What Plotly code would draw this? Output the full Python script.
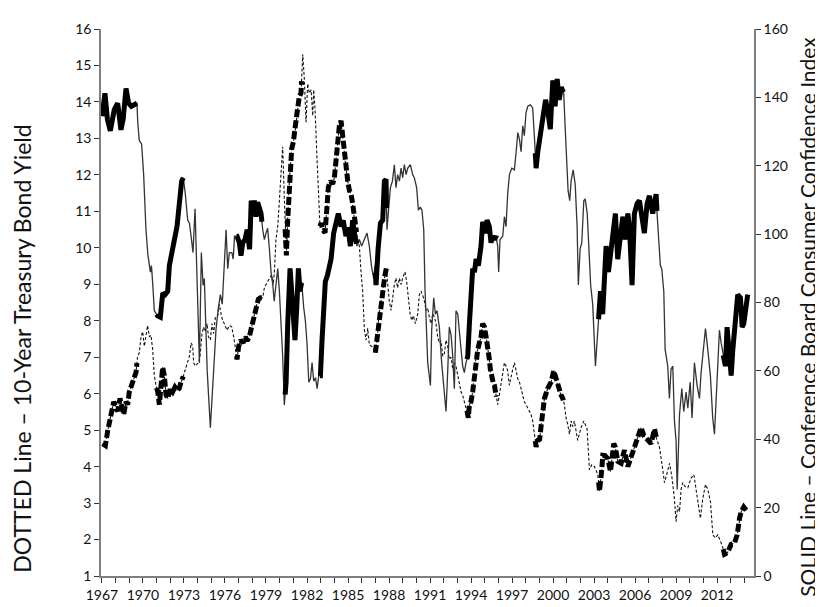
import numpy as np
import plotly.graph_objects as go

# ---- Conference Board Consumer Confidence Index (solid line, right axis)
conf_years = [1967.0, 1967.22, 1967.4, 1967.61, 1967.9, 1968.15, 1968.39, 1968.55, 1968.76, 1968.95,
    1969.15, 1969.35, 1969.56, 1969.62, 1969.73, 1969.9, 1970.05, 1970.22, 1970.36, 1970.54,
    1970.62, 1970.72, 1970.83, 1971.07, 1971.27, 1971.45, 1971.62, 1971.81, 1971.93, 1972.17,
    1972.49, 1972.66, 1972.83, 1972.95, 1973.1, 1973.27, 1973.4, 1973.52, 1973.66, 1973.81,
    1973.9, 1973.98, 1974.05, 1974.13, 1974.27, 1974.4, 1974.49, 1974.7, 1974.93, 1975.1,
    1975.34, 1975.5, 1975.66, 1975.8, 1976.08, 1976.2, 1976.32, 1976.5, 1976.6, 1976.7,
    1976.88, 1977.05, 1977.17, 1977.3, 1977.47, 1977.62, 1977.8, 1977.92, 1978.04, 1978.15,
    1978.27, 1978.39, 1978.52, 1978.64, 1978.76, 1978.88, 1979.0, 1979.12, 1979.25, 1979.37,
    1979.5, 1979.6, 1979.73, 1979.86, 1979.98, 1980.1, 1980.22, 1980.34, 1980.47, 1980.59,
    1980.76, 1980.88, 1981.0, 1981.12, 1981.25, 1981.37, 1981.49, 1981.61, 1981.76, 1981.88,
    1982.0, 1982.13, 1982.25, 1982.37, 1982.49, 1982.62, 1982.74, 1982.86, 1982.98, 1983.1,
    1983.22, 1983.34, 1983.5, 1983.64, 1983.76, 1983.95, 1984.12, 1984.29, 1984.49, 1984.65,
    1984.85, 1985.0, 1985.17, 1985.34, 1985.5, 1985.66, 1985.83, 1986.0, 1986.2, 1986.39,
    1986.56, 1986.71, 1986.88, 1986.97, 1987.05, 1987.2, 1987.37, 1987.54, 1987.66, 1987.78,
    1987.85, 1987.95, 1988.1, 1988.25, 1988.39, 1988.51, 1988.63, 1988.76, 1988.88, 1989.0,
    1989.12, 1989.25, 1989.37, 1989.56, 1989.73, 1989.85, 1990.02, 1990.15, 1990.29, 1990.41,
    1990.54, 1990.63, 1990.72, 1990.83, 1991.03, 1991.12, 1991.27, 1991.39, 1991.51, 1991.68,
    1991.85, 1992.05, 1992.17, 1992.29, 1992.41, 1992.54, 1992.66, 1992.78, 1992.9, 1993.03,
    1993.15, 1993.27, 1993.39, 1993.51, 1993.63, 1993.76, 1993.88, 1994.0, 1994.12, 1994.25,
    1994.37, 1994.54, 1994.73, 1994.85, 1995.03, 1995.17, 1995.34, 1995.46, 1995.59, 1995.71,
    1995.83, 1995.95, 1996.02, 1996.12, 1996.32, 1996.44, 1996.56, 1996.68, 1996.81, 1996.98,
    1997.17, 1997.3, 1997.42, 1997.54, 1997.66, 1997.78, 1997.9, 1998.02, 1998.15, 1998.34,
    1998.51, 1998.63, 1998.76, 1998.88, 1999.0, 1999.12, 1999.3, 1999.45, 1999.6, 1999.8,
    1999.98, 2000.15, 2000.3, 2000.45, 2000.6, 2000.78, 2000.88, 2001.0, 2001.1, 2001.22,
    2001.32, 2001.47, 2001.62, 2001.76, 2001.85, 2001.98, 2002.1, 2002.25, 2002.35, 2002.5,
    2002.62, 2002.75, 2002.9, 2003.1, 2003.34, 2003.47, 2003.63, 2003.76, 2003.88, 2004.05,
    2004.25, 2004.56, 2004.73, 2004.93, 2005.1, 2005.27, 2005.47, 2005.59, 2005.78, 2005.95,
    2006.15, 2006.32, 2006.49, 2006.68, 2006.88, 2007.05, 2007.29, 2007.54, 2007.61, 2007.71,
    2007.85, 2007.95, 2008.1, 2008.2, 2008.39, 2008.51, 2008.63, 2008.76, 2008.88, 2009.0,
    2009.08, 2009.25, 2009.42, 2009.56, 2009.73, 2009.86, 2010.03, 2010.17, 2010.34, 2010.54,
    2010.71, 2010.83, 2010.95, 2011.15, 2011.32, 2011.51, 2011.68, 2011.81, 2011.98, 2012.17,
    2012.3, 2012.42, 2012.61, 2012.73, 2012.9, 2013.03, 2013.15, 2013.34, 2013.51, 2013.71,
    2013.83, 2013.95, 2014.12, 2014.24]
conf_values = [134.5, 141.2, 133.6, 130.2, 136.4, 138.3, 130.5, 133.6, 142.6, 138.3,
    137.4, 137.8, 138.3, 132.6, 127.4, 126.4, 117.4, 101.3, 94.0, 88.9,
    90.8, 85.1, 77.6, 76.1, 75.7, 82.8, 82.3, 83.3, 90.8, 96.5,
    102.2, 108.9, 115.5, 116.5, 111.7, 104.1, 103.2, 99.4, 94.6, 107.4,
    96.5, 84.2, 73.8, 62.4, 94.6, 85.0, 87.0, 60.0, 43.4, 55.0,
    71.9, 78.0, 82.3, 79.5, 101.3, 89.9, 94.6, 94.6, 92.7, 99.4,
    99.4, 97.5, 93.7, 97.5, 98.4, 101.3, 95.6, 109.8, 106.0, 109.8,
    105.1, 109.3, 107.9, 106.0, 101.3, 98.4, 100.3, 101.7, 95.6, 88.9,
    85.1, 80.4, 85.2, 89.9, 83.3, 73.8, 64.3, 50.0, 56.7, 73.8,
    90.0, 83.3, 73.8, 69.0, 78.5, 90.0, 83.3, 86.0, 78.5, 74.7,
    68.1, 56.7, 57.6, 62.4, 57.0, 58.0, 54.8, 58.6, 58.6, 69.0,
    78.5, 86.1, 88.0, 90.9, 92.7, 100.3, 104.1, 106.0, 102.2, 104.0,
    99.4, 102.0, 96.5, 104.1, 99.4, 96.5, 98.4, 96.5, 98.4, 100.3,
    96.5, 90.8, 87.0, 90.8, 85.1, 95.6, 103.2, 104.1, 115.5, 116.0,
    101.3, 106.0, 113.6, 115.5, 120.3, 113.6, 117.4, 115.5, 119.3, 116.5,
    120.3, 117.4, 119.3, 120.3, 117.4, 116.5, 113.6, 107.0, 107.9, 107.0,
    101.3, 84.2, 73.8, 62.4, 55.7, 71.9, 81.4, 76.6, 77.6, 72.8,
    62.4, 52.9, 48.1, 59.5, 72.8, 70.5, 64.3, 54.8, 77.6, 76.6,
    70.0, 66.2, 61.4, 59.5, 62.4, 64.3, 73.8, 82.3, 89.9, 88.9,
    92.7, 90.8, 96.5, 103.6, 100.3, 104.1, 102.2, 97.5, 99.4, 98.4,
    99.4, 96.5, 88.9, 98.4, 99.4, 105.1, 102.2, 111.7, 117.4, 119.3,
    118.8, 124.1, 129.7, 127.8, 124.1, 131.7, 128.8, 135.5, 137.4, 137.8,
    136.9, 128.8, 119.3, 124.0, 127.0, 130.7, 135.5, 139.3, 136.4, 130.7,
    145.0, 137.4, 145.4, 139.3, 143.0, 141.2, 131.7, 119.3, 112.7, 109.8,
    115.5, 118.8, 114.6, 102.2, 85.1, 95.6, 97.5, 109.8, 110.3, 106.0,
    94.6, 85.1, 79.5, 61.4, 75.7, 83.3, 76.6, 85.0, 96.5, 88.9,
    96.5, 106.0, 92.7, 98.4, 105.1, 98.4, 106.0, 102.2, 85.1, 106.0,
    108.9, 109.8, 104.1, 100.3, 108.9, 111.2, 106.0, 111.7, 106.0, 98.4,
    90.8, 89.9, 83.3, 66.2, 61.4, 51.9, 60.5, 61.4, 45.3, 39.6,
    25.3, 47.2, 54.8, 48.1, 53.8, 49.1, 56.7, 46.2, 62.4, 55.7,
    51.9, 59.5, 64.3, 72.4, 66.2, 58.6, 46.2, 41.5, 55.7, 71.9,
    68.1, 65.2, 61.4, 72.8, 63.3, 58.6, 66.2, 73.8, 82.3, 81.4,
    72.8, 73.8, 79.5, 82.3]

# ---- 10-Year Treasury Bond Yield (dotted line, left axis)
yield_years = [1967.05, 1967.25, 1967.42, 1967.54, 1967.71, 1967.86, 1968.03, 1968.15, 1968.32, 1968.44,
    1968.59, 1968.76, 1968.88, 1969.0, 1969.12, 1969.25, 1969.37, 1969.49, 1969.61, 1969.73,
    1969.86, 1969.98, 1970.1, 1970.22, 1970.34, 1970.47, 1970.59, 1970.71, 1970.83, 1970.95,
    1971.08, 1971.2, 1971.32, 1971.44, 1971.56, 1971.69, 1971.81, 1972.0, 1972.17, 1972.34,
    1972.49, 1972.66, 1972.78, 1972.9, 1973.03, 1973.15, 1973.27, 1973.4, 1973.52, 1973.64,
    1973.71, 1973.81, 1973.95, 1974.08, 1974.17, 1974.32, 1974.44, 1974.54, 1974.69, 1974.79,
    1974.93, 1975.05, 1975.17, 1975.3, 1975.47, 1975.59, 1975.71, 1975.83, 1975.95, 1976.15,
    1976.32, 1976.49, 1976.64, 1976.76, 1976.88, 1977.0, 1977.15, 1977.32, 1977.49, 1977.62,
    1977.78, 1977.95, 1978.1, 1978.27, 1978.44, 1978.59, 1978.76, 1978.88, 1979.05, 1979.25,
    1979.42, 1979.52, 1979.61, 1979.73, 1979.86, 1979.98, 1980.1, 1980.22, 1980.3, 1980.39,
    1980.49, 1980.59, 1980.71, 1980.88, 1981.0, 1981.12, 1981.27, 1981.44, 1981.56, 1981.69,
    1981.81, 1981.93, 1982.05, 1982.17, 1982.3, 1982.42, 1982.49, 1982.59, 1982.71, 1982.83,
    1982.95, 1983.03, 1983.15, 1983.32, 1983.46, 1983.56, 1983.71, 1983.88, 1984.0, 1984.12,
    1984.24, 1984.37, 1984.49, 1984.61, 1984.73, 1984.85, 1984.98, 1985.1, 1985.22, 1985.34,
    1985.42, 1985.51, 1985.71, 1985.83, 1985.95, 1986.07, 1986.2, 1986.32, 1986.44, 1986.56,
    1986.73, 1986.85, 1987.0, 1987.17, 1987.24, 1987.37, 1987.46, 1987.61, 1987.71, 1987.8,
    1987.9, 1988.02, 1988.15, 1988.27, 1988.39, 1988.51, 1988.63, 1988.76, 1988.88, 1989.0,
    1989.17, 1989.29, 1989.42, 1989.54, 1989.66, 1989.78, 1989.93, 1990.1, 1990.22, 1990.34,
    1990.46, 1990.59, 1990.71, 1990.83, 1990.95, 1991.07, 1991.2, 1991.32, 1991.44, 1991.56,
    1991.68, 1991.81, 1991.93, 1992.05, 1992.17, 1992.29, 1992.41, 1992.54, 1992.66, 1992.78,
    1992.9, 1993.03, 1993.15, 1993.27, 1993.39, 1993.51, 1993.63, 1993.71, 1993.8, 1993.88,
    1994.0, 1994.12, 1994.25, 1994.37, 1994.49, 1994.61, 1994.73, 1994.85, 1994.98, 1995.1,
    1995.22, 1995.34, 1995.41, 1995.51, 1995.61, 1995.71, 1995.83, 1995.95, 1996.07, 1996.2,
    1996.32, 1996.44, 1996.56, 1996.68, 1996.8, 1996.93, 1997.05, 1997.17, 1997.3, 1997.42,
    1997.54, 1997.66, 1997.78, 1997.9, 1998.02, 1998.15, 1998.27, 1998.39, 1998.51, 1998.63,
    1998.76, 1998.88, 1999.02, 1999.12, 1999.25, 1999.37, 1999.61, 1999.86, 2000.05, 2000.22,
    2000.39, 2000.59, 2000.71, 2000.83, 2000.95, 2001.07, 2001.2, 2001.32, 2001.44, 2001.56,
    2001.68, 2001.8, 2002.05, 2002.25, 2002.49, 2002.66, 2002.83, 2003.03, 2003.27, 2003.4,
    2003.56, 2003.64, 2003.8, 2004.0, 2004.2, 2004.44, 2004.54, 2004.74, 2004.98, 2005.22,
    2005.47, 2005.71, 2005.95, 2006.2, 2006.44, 2006.64, 2006.93, 2007.17, 2007.42, 2007.54,
    2007.78, 2008.03, 2008.15, 2008.34, 2008.52, 2008.69, 2008.88, 2009.0, 2009.12, 2009.25,
    2009.37, 2009.49, 2009.66, 2009.86, 2010.1, 2010.3, 2010.47, 2010.64, 2010.78, 2010.95,
    2011.15, 2011.32, 2011.52, 2011.69, 2011.86, 2012.05, 2012.25, 2012.42, 2012.54, 2012.78,
    2013.03, 2013.27, 2013.47, 2013.64, 2013.76, 2013.95, 2014.13]
yield_values = [4.63, 4.58, 4.98, 5.25, 5.52, 5.78, 5.6, 5.52, 5.87, 5.6,
    5.43, 5.78, 5.7, 6.05, 6.18, 6.32, 6.5, 6.58, 7.03, 7.12,
    7.56, 7.7, 7.3, 7.56, 7.87, 7.56, 7.6, 7.21, 6.5, 6.23,
    6.05, 5.7, 6.32, 6.72, 6.5, 5.96, 5.87, 6.14, 6.05, 6.18,
    6.1, 6.15, 6.32, 6.41, 6.58, 6.72, 6.85, 7.03, 7.39, 7.3,
    6.85, 6.76, 6.81, 6.85, 7.03, 7.65, 7.83, 7.7, 7.92, 7.56,
    7.47, 7.92, 7.65, 8.1, 8.14, 8.45, 8.19, 8.01, 7.92, 7.74,
    7.87, 7.83, 7.56, 7.3, 6.94, 7.3, 7.47, 7.39, 7.56, 7.45,
    7.56, 7.83, 8.1, 8.37, 8.59, 8.63, 8.63, 8.9, 9.03, 9.17,
    9.26, 8.99, 9.3, 10.23, 10.59, 11.3, 12.01, 12.77, 11.83, 10.59,
    9.79, 10.77, 11.83, 12.72, 12.9, 13.17, 13.7, 14.15, 14.24, 15.31,
    14.59, 13.44, 14.5, 14.24, 14.33, 13.62, 14.33, 13.79, 12.64, 11.57,
    10.59, 10.68, 10.5, 10.41, 11.12, 11.66, 11.83, 11.75, 11.92, 12.46,
    12.9, 13.35, 13.48, 12.99, 12.55, 12.19, 11.83, 11.57, 11.48, 11.21,
    10.94, 10.59, 10.3, 10.05, 9.34, 8.81, 7.74, 7.47, 7.79, 7.34,
    7.3, 7.25, 7.12, 7.65, 8.1, 8.45, 8.63, 8.99, 9.26, 9.43,
    8.99, 8.54, 8.28, 8.72, 8.99, 9.17, 8.9, 9.17, 8.99, 9.17,
    9.34, 9.08, 8.63, 8.19, 8.01, 8.14, 7.92, 8.19, 8.72, 8.81,
    8.7, 8.54, 8.28, 8.35, 8.1, 7.92, 8.19, 8.1, 7.92, 7.56,
    7.39, 7.45, 7.03, 7.1, 7.47, 7.3, 6.94, 7.0, 6.67, 6.85,
    6.75, 6.5, 6.23, 6.05, 5.96, 5.78, 5.6, 5.52, 5.34, 5.7,
    5.78, 6.05, 6.5, 7.03, 7.21, 7.39, 7.56, 7.92, 7.83, 7.56,
    7.3, 6.94, 6.67, 6.41, 6.32, 6.23, 5.96, 5.7, 5.96, 6.32,
    6.67, 6.85, 6.76, 6.63, 6.23, 6.5, 6.67, 6.85, 6.58, 6.41,
    6.32, 6.14, 5.96, 5.78, 5.7, 5.6, 5.55, 5.43, 5.25, 4.89,
    4.54, 4.72, 4.75, 5.1, 5.5, 5.87, 6.14, 6.32, 6.63, 6.41,
    6.14, 5.96, 5.87, 5.7, 5.34, 5.16, 4.89, 5.25, 5.1, 5.25,
    5.0, 4.72, 5.07, 5.25, 5.03, 3.91, 4.05, 4.0, 3.78, 3.33,
    3.91, 4.31, 4.3, 4.22, 3.87, 4.63, 4.55, 4.14, 4.09, 4.45,
    4.0, 4.27, 4.54, 4.8, 5.07, 4.85, 4.71, 4.63, 5.03, 4.8,
    4.54, 3.91, 3.56, 3.82, 4.09, 3.73, 3.11, 2.49, 2.93, 2.76,
    3.38, 3.56, 3.45, 3.42, 3.69, 3.78, 3.29, 2.93, 2.58, 3.11,
    3.51, 3.38, 3.02, 2.13, 2.04, 2.13, 1.95, 1.78, 1.6, 1.65,
    1.87, 1.9, 2.13, 2.58, 2.76, 2.89, 2.8]

# ---- periods in which both series move together (drawn thick)
period_starts = [1967.0, 1971.0, 1976.85, 1980.4, 1982.95, 1987.0, 1993.7, 1998.7, 2003.33, 2012.45]
period_ends = [1969.56, 1972.95, 1978.7, 1981.6, 1985.62, 1987.82, 1995.85, 2000.75, 2007.6, 2014.3]

year_ticks = list(range(1967, 2015))
year_labels = [str(y) if (y - 1967) % 3 == 0 else "" for y in year_ticks]


def thick_parts(xs, ys):
    xs = np.asarray(xs, float)
    ys = np.asarray(ys, float)
    ox, oy = [], []
    for s, e in zip(period_starts, period_ends):
        s2 = max(s, xs[0])
        e2 = min(e, xs[-1])
        inner = (xs > s2) & (xs < e2)
        px = [s2] + list(xs[inner]) + [e2]
        py = [float(np.interp(s2, xs, ys))] + list(ys[inner]) + [float(np.interp(e2, xs, ys))]
        ox += px + [None]
        oy += py + [None]
    return ox, oy


FONT = "Lato, 'Open Sans', sans-serif"
fig = go.Figure()

# dotted line (yield), thin
fig.add_trace(go.Scatter(x=yield_years, y=yield_values, mode="lines",
                         line=dict(color="#111111", width=1.1, dash="3px,2px"),
                         yaxis="y", showlegend=False, hoverinfo="skip"))
tx, ty = thick_parts(yield_years, yield_values)
fig.add_trace(go.Scatter(x=tx, y=ty, mode="lines", connectgaps=False,
                         line=dict(color="#000000", width=5, dash="8px,3px"),
                         yaxis="y", showlegend=False, hoverinfo="skip"))

# solid line (confidence), thin
fig.add_trace(go.Scatter(x=conf_years, y=conf_values, mode="lines",
                         line=dict(color="#333333", width=1.3),
                         yaxis="y2", showlegend=False, hoverinfo="skip"))
cx, cy = thick_parts(conf_years, conf_values)
fig.add_trace(go.Scatter(x=cx, y=cy, mode="lines", connectgaps=False,
                         line=dict(color="#000000", width=5),
                         yaxis="y2", showlegend=False, hoverinfo="skip"))

axis_common = dict(showgrid=False, zeroline=False, showline=True, linecolor="#7f7f7f",
                   linewidth=1.5, ticks="outside", ticklen=5, tickcolor="#333333",
                   tickfont=dict(family=FONT, size=14, color="#111111"))

fig.update_layout(
    width=823, height=607,
    margin=dict(l=93, r=77, t=14, b=31),
    paper_bgcolor="white", plot_bgcolor="white",
    xaxis=dict(range=[1966.93, 2014.7], tickmode="array", tickvals=year_ticks,
               ticktext=year_labels, **axis_common),
    yaxis=dict(range=[1, 16], tickmode="linear", tick0=1, dtick=1, **axis_common),
    yaxis2=dict(range=[0, 160], tickmode="linear", tick0=0, dtick=20, overlaying="y",
                side="right", **axis_common),
    annotations=[
        dict(text="DOTTED Line – 10-Year Treasury Bond Yield", xref="paper", yref="paper",
             x=-0.1215, y=0.415, textangle=-90, showarrow=False, xanchor="center", yanchor="middle",
             font=dict(family=FONT, size=23, color="#111111")),
        dict(text="SOLID Line – Conference Board Consumer Confidence Index", xref="paper", yref="paper",
             x=1.082, y=0.473, textangle=-90, showarrow=False, xanchor="center", yanchor="middle",
             font=dict(family=FONT, size=21, color="#111111")),
    ],
)

fig.write_html("out.html")
